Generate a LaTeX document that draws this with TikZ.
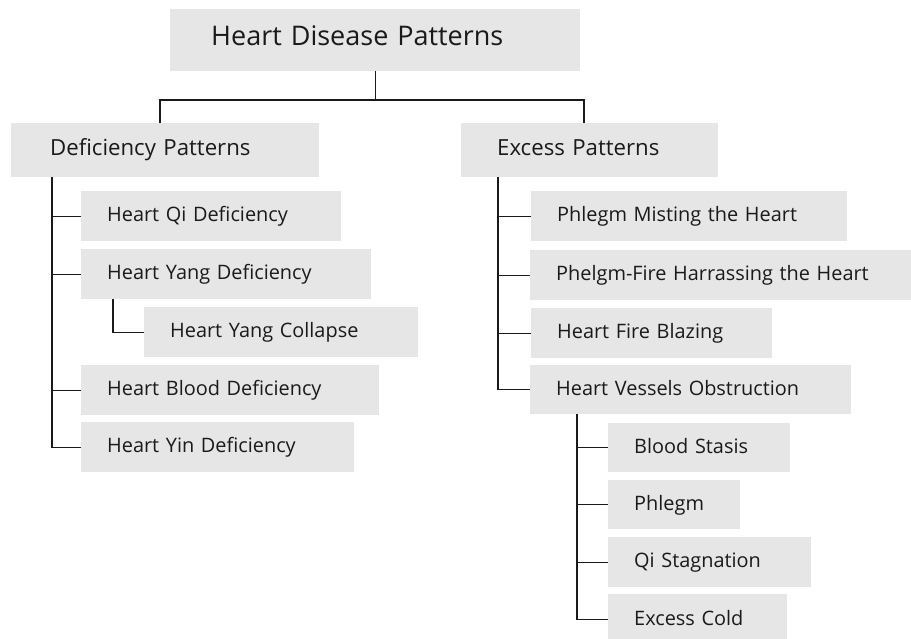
\documentclass[tikz,border=0pt]{standalone}
\usepackage{fontspec}
\setmainfont{Open Sans}
\definecolor{boxgray}{HTML}{E6E6E6}
\definecolor{inkc}{HTML}{1A1A1A}
\begin{document}
\begin{tikzpicture}[x=1pt,y=-1pt,
  box/.style={fill=boxgray, draw=none, anchor=north west, inner ysep=0pt,
    align=left, text height=0.714em+4pt, text depth=0pt, text=inkc},
  lvlone/.style={box, font=\fontsize{27}{30}\selectfont},
  lvltwo/.style={box, font=\fontsize{22.2}{25}\selectfont},
  lvlthree/.style={box, font=\fontsize{19.9}{22}\selectfont},
  conn/.style={line width=1.2pt, draw=inkc}]
\useasboundingbox (0,0) rectangle (911,638);
% helper: box(x1,y1,x2,y2,pad)
\newcommand{\mybox}[8]{%
  \node[#1, inner xsep=#7pt, text width=#4pt-#2pt-2*#7pt, minimum height=#5pt] (#6) at (#2,#3) {#8};}
\mybox{lvlone}{170}{9}{580}{62}{title}{41}{Heart Disease Patterns}
\mybox{lvltwo}{11}{123}{319}{54}{def}{39}{Deficiency Patterns}
\mybox{lvltwo}{461}{123}{718}{54}{exc}{36}{Excess Patterns}
\mybox{lvlthree}{81}{191}{341}{50}{qi}{26}{Heart Qi Deficiency}
\mybox{lvlthree}{81}{249}{371}{50}{yang}{26}{Heart Yang Deficiency}
\mybox{lvlthree}{144}{307}{418}{50}{collapse}{26}{Heart Yang Collapse}
\mybox{lvlthree}{81}{365}{379}{50}{blood}{26}{Heart Blood Deficiency}
\mybox{lvlthree}{81}{422}{354}{50}{yin}{26}{Heart Yin Deficiency}
\mybox{lvlthree}{531}{191}{847}{50}{phm}{26}{Phlegm Misting the Heart}
\mybox{lvlthree}{530}{250}{930}{50}{pfh}{26}{Phelgm-Fire Harrassing the Heart}
\mybox{lvlthree}{531}{308}{772}{50}{hfb}{26}{Heart Fire Blazing}
\mybox{lvlthree}{530}{365}{851}{49}{hvo}{26}{Heart Vessels Obstruction}
\mybox{lvlthree}{608}{423}{790}{49}{bs}{26}{Blood Stasis}
\mybox{lvlthree}{608}{480}{740}{49}{ph}{26}{Phlegm}
\mybox{lvlthree}{608}{537}{811}{50}{qs}{26}{Qi Stagnation}
\mybox{lvlthree}{608}{594}{787}{51}{ec}{26}{Excess Cold}
% coordinates
\coordinate (tl) at (160,100);
\coordinate (tr) at (584,100);
\coordinate (lx) at (52,0);
\coordinate (yx) at (113,0);
\coordinate (rx) at (498,0);
\coordinate (sx) at (577,0);
% top connectors
\draw[conn] (title.south) -- (title.south |- tl);
\draw[conn] (def.north -| tl) -- (tl) -- (tr) -- (exc.north -| tr);
% left tree
\draw[conn] (lx |- def.south) |- (yin.west);
\draw[conn] (lx |- qi.west) -- (qi.west);
\draw[conn] (lx |- yang.west) -- (yang.west);
\draw[conn] (lx |- blood.west) -- (blood.west);
\draw[conn] (yx |- yang.south) |- (collapse.west);
% right tree
\draw[conn] (rx |- exc.south) |- (hvo.west);
\draw[conn] (rx |- phm.west) -- (phm.west);
\draw[conn] (rx |- pfh.west) -- (pfh.west);
\draw[conn] (rx |- hfb.west) -- (hfb.west);
\draw[conn] (sx |- hvo.south) |- (ec.west);
\draw[conn] (sx |- bs.west) -- (bs.west);
\draw[conn] (sx |- ph.west) -- (ph.west);
\draw[conn] (sx |- qs.west) -- (qs.west);
\end{tikzpicture}
\end{document}
